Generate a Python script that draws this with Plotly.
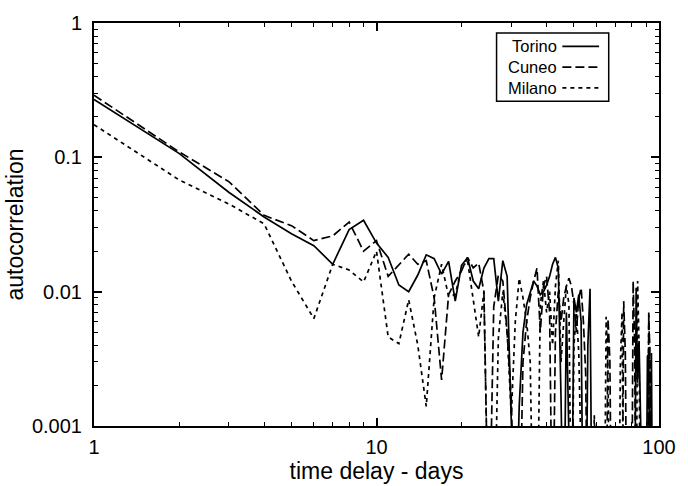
import plotly.graph_objects as go

days = list(range(1, 101))
LOW = 0.0001  # below plotted range (negative / tiny autocorrelation)

torino = [0.27, 0.107, 0.055, 0.036, 0.027, 0.022, 0.016, 0.029, 0.034, 0.023,
          0.018, 0.0112, 0.010, 0.0133, 0.0188, 0.0176, 0.0135, 0.0168, 0.0085, 0.0157,
          0.0179, 0.012, 0.0105, 0.015, 0.0176, 0.0176, 0.0085, 0.017, 0.013, 0.0017,
          LOW, 0.0014, 0.005, 0.008, 0.010, 0.012, 0.011, 0.0095, 0.010, 0.0112,
          0.013, 0.016, 0.018, 0.015, 0.0016, LOW, 0.007, 0.0011, LOW, 0.009,
          0.007, 0.0095, 0.006, LOW, LOW, 0.004, 0.0105, LOW, LOW, LOW,
          LOW, LOW, LOW, LOW, LOW, LOW, LOW, LOW, LOW, LOW,
          LOW, LOW, LOW, LOW, LOW, LOW, LOW, LOW, LOW, LOW,
          LOW, LOW, 0.0107, 0.0021, 0.0043, LOW, LOW, LOW, LOW, LOW,
          0.0033, 0.0034, LOW, 0.0035, LOW, LOW, LOW, LOW, LOW, LOW]

cuneo = [0.29, 0.11, 0.066, 0.037, 0.031, 0.024, 0.026, 0.033, 0.020, 0.024,
         0.013, 0.016, 0.019, 0.016, 0.017, 0.009, 0.0022, 0.0095, 0.012, 0.0143,
         0.018, 0.015, 0.0163, 0.010, LOW, 0.0077, 0.0133, 0.012, 0.005, 0.0016,
         LOW, LOW, 0.003, 0.006, 0.009, 0.012, 0.015, 0.005, 0.011, 0.013,
         0.007, LOW, 0.005, 0.010, 0.006, 0.009, 0.011, 0.0126, 0.011, 0.008,
         0.005, 0.009, 0.0107, 0.006, 0.0025, LOW, LOW, LOW, LOW, LOW,
         LOW, LOW, LOW, LOW, LOW, 0.0063, 0.0031, LOW, LOW, LOW,
         LOW, LOW, LOW, LOW, 0.0085, 0.0035, LOW, LOW, LOW, LOW,
         0.012, 0.004, LOW, LOW, LOW, LOW, LOW, LOW, LOW, LOW,
         LOW, 0.007, 0.003, LOW, LOW, LOW, LOW, LOW, LOW, LOW]

milano = [0.175, 0.068, 0.045, 0.032, 0.012, 0.0063, 0.016, 0.0145, 0.0118, 0.020,
          0.0046, 0.0041, 0.0087, 0.004, 0.0014, 0.009, 0.016, 0.0092, 0.0095, 0.015,
          0.017, 0.009, 0.0046, 0.010, LOW, LOW, 0.0045, 0.010, 0.005, 0.0012,
          0.006, 0.0126, 0.009, 0.006, 0.003, LOW, LOW, 0.008, 0.012, 0.007,
          0.010, 0.004, 0.011, 0.017, 0.003, 0.006, 0.011, 0.008, LOW, 0.004,
          0.007, 0.0035, LOW, LOW, LOW, LOW, LOW, LOW, 0.0012, LOW,
          LOW, LOW, LOW, LOW, 0.0065, 0.0025, LOW, LOW, LOW, LOW,
          LOW, LOW, 0.003, 0.007, LOW, LOW, LOW, LOW, LOW, LOW,
          LOW, LOW, LOW, 0.012, 0.004, LOW, LOW, LOW, LOW, LOW,
          LOW, 0.0068, 0.0025, LOW, LOW, LOW, LOW, LOW, LOW, LOW]

names = ["Torino", "Cuneo", "Milano"]
dashes = ["solid", "9px,4px", "4px,4px"]
series = [torino, cuneo, milano]

FONT = "Liberation Sans, Arial, Helvetica, sans-serif"

fig = go.Figure()
for name, vals, dash in zip(names, series, dashes):
    fig.add_trace(go.Scatter(x=days, y=vals, mode="lines", name=name,
                             line=dict(color="black", width=1.7, dash=dash),
                             showlegend=False))

axis_common = dict(
    type="log", showline=True, linecolor="black", linewidth=2, mirror="allticks",
    ticks="inside", ticklen=8, tickwidth=1.5, tickcolor="black",
    showgrid=False, zeroline=False,
    minor=dict(ticks="inside", ticklen=4, tickwidth=1, tickcolor="black",
               dtick="D1", showgrid=False),
    tickfont=dict(family=FONT, size=20, color="black"),
)

fig.update_xaxes(**axis_common, range=[0, 2], tickvals=[1, 10, 100],
                 ticktext=["1", "10", "100"], ticklabelstandoff=2,
                 title=dict(text="time delay - days", standoff=0,
                            font=dict(family=FONT, size=23, color="black")))
fig.update_yaxes(**axis_common, range=[-3, 0], tickvals=[0.001, 0.01, 0.1, 1],
                 ticktext=["0.001", "0.01", "0.1", "1"], ticklabelstandoff=6,
                 title=dict(text="autocorrelation", standoff=2,
                            font=dict(family=FONT, size=23, color="black")))

# legend drawn in gnuplot style: label then line sample
leg_x0, leg_x1, leg_y0, leg_y1 = 0.7125, 0.911, 0.806, 0.975
fig.add_shape(type="rect", xref="paper", yref="paper", x0=leg_x0, x1=leg_x1,
              y0=leg_y0, y1=leg_y1, line=dict(color="black", width=1.5))
ys = [0.9420, 0.8905, 0.8390]
for name, dash, yy in zip(names, dashes, ys):
    fig.add_annotation(xref="paper", yref="paper", x=0.822, y=yy, text=name,
                       showarrow=False, xanchor="right", yanchor="middle",
                       borderpad=0,
                       font=dict(family=FONT, size=16.5, color="black"))
    fig.add_shape(type="line", xref="paper", yref="paper", x0=0.829, x1=0.894,
                  y0=yy, y1=yy, line=dict(color="black", width=1.7, dash=dash))

fig.update_layout(
    width=688, height=486,
    margin=dict(l=94, r=20, t=21, b=51),
    paper_bgcolor="white", plot_bgcolor="white",
    font=dict(family=FONT, color="black"),
)

fig.write_html("out.html")
